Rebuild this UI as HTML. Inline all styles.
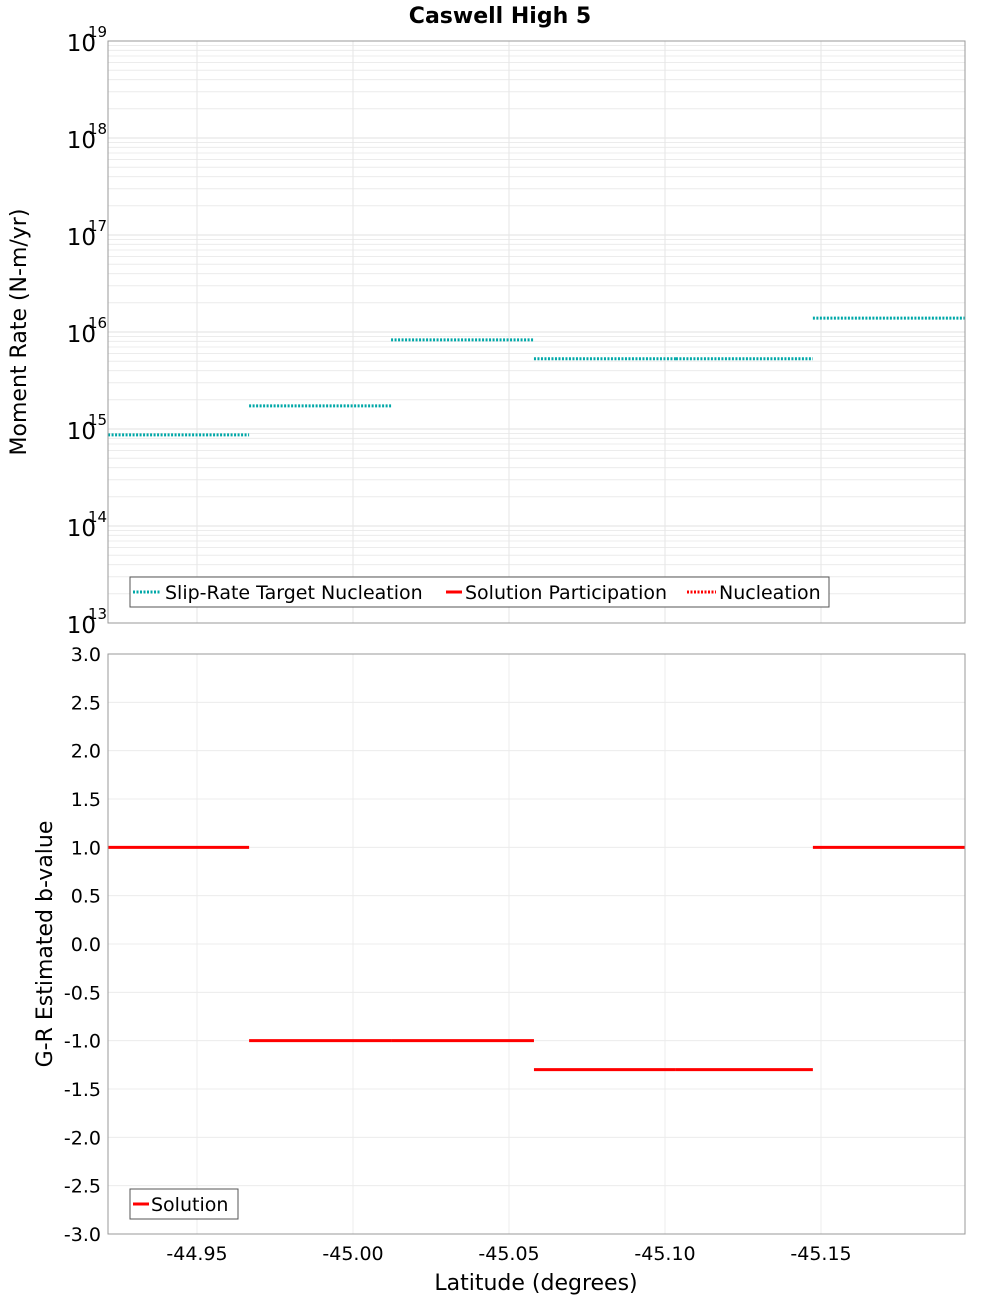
<!DOCTYPE html>
<html><head><meta charset="utf-8"><style>
body{margin:0;background:#fff;font-family:"Liberation Sans","DejaVu Sans",sans-serif}
svg text{font-family:"DejaVu Sans","Liberation Sans",sans-serif}
</style></head><body>
<svg id="c" width="1000" height="1300" xmlns="http://www.w3.org/2000/svg"></svg>
<script>
const segStart=[-44.9215,-44.9667,-45.0122,-45.058,-45.1035,-45.1474];
const segEnd=[-44.9667,-45.0122,-45.058,-45.1035,-45.1474,-45.196];
const momentRate=[8.7e14,1.73e15,8.3e15,5.3e15,5.3e15,1.39e16];
const bValue=[1.0,-1.0,-1.0,-1.3,-1.3,1.0];
const xTicks=[-44.95,-45.00,-45.05,-45.10,-45.15];
const xTickLabels=["-44.95","-45.00","-45.05","-45.10","-45.15"];
const logExps=[13,14,15,16,17,18,19];
const bTicks=[3.0,2.5,2.0,1.5,1.0,0.5,0.0,-0.5,-1.0,-1.5,-2.0,-2.5,-3.0];

const NS="http://www.w3.org/2000/svg",svg=document.getElementById('c');
function el(t,a,p){const e=document.createElementNS(NS,t);for(const k in a)e.setAttribute(k,a[k]);(p||svg).appendChild(e);return e;}
const L=108,R=965,T1=41,B1=623,T2=654,B2=1234;
const xs=v=>197+(-44.95-v)*3120;
const ys1=v=>B1-(Math.log10(v)-13)*(B1-T1)/6;
const ys2=v=>T2+(3-v)*(B2-T2)/6;

let t=el('text',{x:500,y:23,'text-anchor':'middle','font-size':22,'font-weight':'bold'});t.textContent="Caswell High 5";



// top panel
let g1=el('g',{});


for(let e=13;e<19;e++)for(let m=2;m<10;m++){el('line',{x1:L,x2:R,y1:ys1(m*10**e),y2:ys1(m*10**e),stroke:'#ececec','stroke-width':1},g1);}
logExps.forEach(e=>{el('line',{x1:L,x2:R,y1:ys1(10**e),y2:ys1(10**e),stroke:'#e0e0e0'},g1);
 const tx=el('text',{x:96,y:ys1(10**e)+10,'text-anchor':'end','font-size':23},g1);tx.textContent="10";
 
 
 const sx=el('text',{x:88,y:ys1(10**e)-4,'font-size':15},g1);sx.textContent=String(e);
 
 });
xTicks.forEach(v=>el('line',{x1:xs(v),x2:xs(v),y1:T1,y2:B1,stroke:'#e6e6e6'},g1));
momentRate.forEach((v,i)=>{const ln=el('line',{x1:xs(segStart[i]),x2:xs(segEnd[i]),y1:ys1(v),y2:ys1(v),stroke:'#00a8a8','stroke-width':3,'stroke-dasharray':'2,1.5'},g1);
 
 });
el('rect',{x:L,y:T1,width:R-L,height:B1-T1,fill:'none',stroke:'#999'},g1);
t=el('text',{x:26,y:332,'text-anchor':'middle','font-size':22,transform:'rotate(-90 26 332)'},g1);t.textContent="Moment Rate (N-m/yr)";


let lg=el('g',{},g1);


el('rect',{x:130,y:577,width:699,height:30,fill:'#fff',stroke:'#555'},lg);
el('line',{x1:133,x2:161,y1:592,y2:592,stroke:'#00a8a8','stroke-width':3,'stroke-dasharray':'2,1.5'},lg);
t=el('text',{x:165,y:599,'font-size':19},lg);t.textContent="Slip-Rate Target Nucleation";
el('line',{x1:446,x2:462,y1:592,y2:592,stroke:'#f00','stroke-width':3},lg);
t=el('text',{x:465,y:599,'font-size':19},lg);t.textContent="Solution Participation";
el('line',{x1:687,x2:716,y1:592,y2:592,stroke:'#f00','stroke-width':3,'stroke-dasharray':'2,1.5'},lg);
t=el('text',{x:719,y:599,'font-size':19},lg);t.textContent="Nucleation";

// bottom panel
let g2=el('g',{});


bTicks.forEach(v=>{el('line',{x1:L,x2:R,y1:ys2(v),y2:ys2(v),stroke:'#ececec'},g2);
 const tx=el('text',{x:101,y:ys2(v)+7,'text-anchor':'end','font-size':19},g2);tx.textContent=v.toFixed(1);
 
 });
xTicks.forEach((v,i)=>{el('line',{x1:xs(v),x2:xs(v),y1:T2,y2:B2,stroke:'#ececec'},g2);
 const tx=el('text',{x:xs(v),y:1260,'text-anchor':'middle','font-size':19},g2);tx.textContent=xTickLabels[i];
 
 });
bValue.forEach((v,i)=>{const ln=el('line',{x1:xs(segStart[i]),x2:xs(segEnd[i]),y1:ys2(v),y2:ys2(v),stroke:'#f00','stroke-width':3},g2);
 
 });
el('rect',{x:L,y:T2,width:R-L,height:B2-T2,fill:'none',stroke:'#999'},g2);
t=el('text',{x:52,y:944,'text-anchor':'middle','font-size':22,transform:'rotate(-90 52 944)'},g2);t.textContent="G-R Estimated b-value";


t=el('text',{x:536,y:1290,'text-anchor':'middle','font-size':22},g2);t.textContent="Latitude (degrees)";


let lg2=el('g',{},g2);


el('rect',{x:130,y:1189,width:108,height:30,fill:'#fff',stroke:'#555'},lg2);
el('line',{x1:133,x2:149,y1:1204,y2:1204,stroke:'#f00','stroke-width':3},lg2);
t=el('text',{x:151,y:1211,'font-size':19},lg2);t.textContent="Solution";
</script>
</body></html>
